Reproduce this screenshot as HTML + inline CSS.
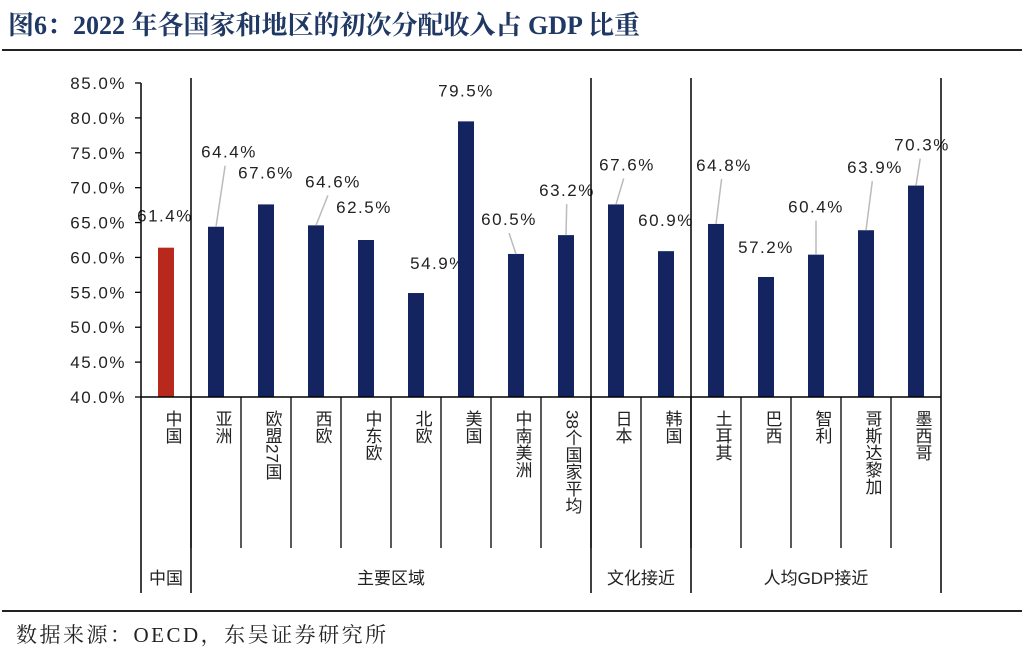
<!DOCTYPE html>
<html><head><meta charset="utf-8"><style>
body{margin:0;background:#fff;width:1024px;height:658px;overflow:hidden;font-family:"Liberation Sans","Noto Sans CJK SC",sans-serif}
</style></head><body>
<svg width="1024" height="658" xmlns="http://www.w3.org/2000/svg">
<text x="8" y="34" font-family="Liberation Serif,'Noto Serif CJK SC',serif" font-weight="bold" font-size="26" fill="#1f3864">图6：2022 年各国家和地区的初次分配收入占 GDP 比重</text>
<rect x="2" y="49" width="1020" height="2" fill="#222"/>
<g id="plot"></g>
<rect x="2" y="610" width="1020" height="2" fill="#222"/>
<text x="16" y="642" font-family="Liberation Serif,'Noto Serif CJK SC',serif" font-size="21" letter-spacing="2.5" fill="#222">数据来源：OECD，东吴证券研究所</text>
</svg>
<script>
const categories=["中国","亚洲","欧盟27国","西欧","中东欧","北欧","美国","中南美洲","38个国家平均","日本","韩国","土耳其","巴西","智利","哥斯达黎加","墨西哥"];
const values=[61.4,64.4,67.6,64.6,62.5,54.9,79.5,60.5,63.2,67.6,60.9,64.8,57.2,60.4,63.9,70.3];
const valueLabels=["61.4%","64.4%","67.6%","64.6%","62.5%","54.9%","79.5%","60.5%","63.2%","67.6%","60.9%","64.8%","57.2%","60.4%","63.9%","70.3%"];
const yTicks=[40,45,50,55,60,65,70,75,80,85];
const yTickLabels=["40.0%","45.0%","50.0%","55.0%","60.0%","65.0%","70.0%","75.0%","80.0%","85.0%"];
const groups=["中国","主要区域","文化接近","人均GDP接近"];
const groupSizes=[1,8,2,5];
// label offsets (style): dx from bar center, dy above bar top, leader flag
const lblDx=[-1,13,0,17,-2,22,0,-7,1,11,0,8,0,0,9,6];
const lblDy=[26,69,26,38,27,24,25,29,39,34,25,53,24,42,57,35];
const leader=[0,1,0,1,0,0,0,1,1,1,0,1,0,1,1,1];
const NS="http://www.w3.org/2000/svg";
const g=document.getElementById('plot');
const X0=141,CW=50,Y0=397,Y1=83,VMIN=40,VMAX=85;
const y=v=>Y0-(v-VMIN)/(VMAX-VMIN)*(Y0-Y1);
const xc=i=>X0+CW*i+CW/2;
function mk(t,a){const e=document.createElementNS(NS,t);for(const k in a)e.setAttribute(k,a[k]);g.appendChild(e);return e;}
yTicks.forEach((t,i)=>{
 const l=mk('line',{x1:135,x2:141,y1:y(t),y2:y(t),stroke:'#000','stroke-width':1.3});
 
 
 const tx=mk('text',{x:126,y:y(t)+6,'text-anchor':'end','font-size':17,fill:'#222','letter-spacing':'1.5'});
 tx.textContent=yTickLabels[i];
 
 
});
categories.forEach((c,i)=>{
 const bw=16,top=y(values[i]);
 const r=mk('rect',{x:xc(i)-bw/2,y:top,width:bw,height:Y0-top,fill:i==0?'#b8281d':'#132461'});
 
 
 const lx=xc(i)+lblDx[i],ly=top-lblDy[i];
 if(leader[i]){
  const ln=mk('line',{x1:xc(i),y1:top,x2:lx-(lblDx[i]>0?lblDx[i]*0.3:0),y2:ly+8,stroke:'#bbb','stroke-width':1.5});
  
  
 }
 const t=mk('text',{x:lx,y:ly,'text-anchor':'middle','font-size':17,fill:'#222','letter-spacing':'1.5'});
 t.textContent=valueLabels[i];
 
 
 const ct=mk('text',{x:xc(i)+6,y:410,'font-size':17,fill:'#222','writing-mode':'tb','glyph-orientation-vertical':'0'});
 ct.style.writingMode='vertical-rl';
 ct.textContent=c;
 
 
});
mk('line',{x1:X0,x2:X0+CW*16,y1:Y0,y2:Y0,stroke:'#000','stroke-width':1.5});
for(let i=1;i<16;i++){mk('line',{x1:X0+CW*i,x2:X0+CW*i,y1:Y0,y2:548,stroke:'#000','stroke-width':1.3});}
let acc=0;const bounds=[0];groupSizes.forEach(s=>{acc+=s;bounds.push(acc);});
bounds.forEach(b=>{const l=mk('line',{x1:X0+CW*b,x2:X0+CW*b,y1:b==0?Y1:78,y2:593,stroke:'#000','stroke-width':1.5});
 
 });
groups.forEach((gname,k)=>{
 const cx=X0+CW*(bounds[k]+bounds[k+1])/2;
 const t=mk('text',{x:cx,y:584,'text-anchor':'middle','font-size':17,fill:'#222'});
 t.textContent=gname;
 
 
});
</script>
</body></html>
